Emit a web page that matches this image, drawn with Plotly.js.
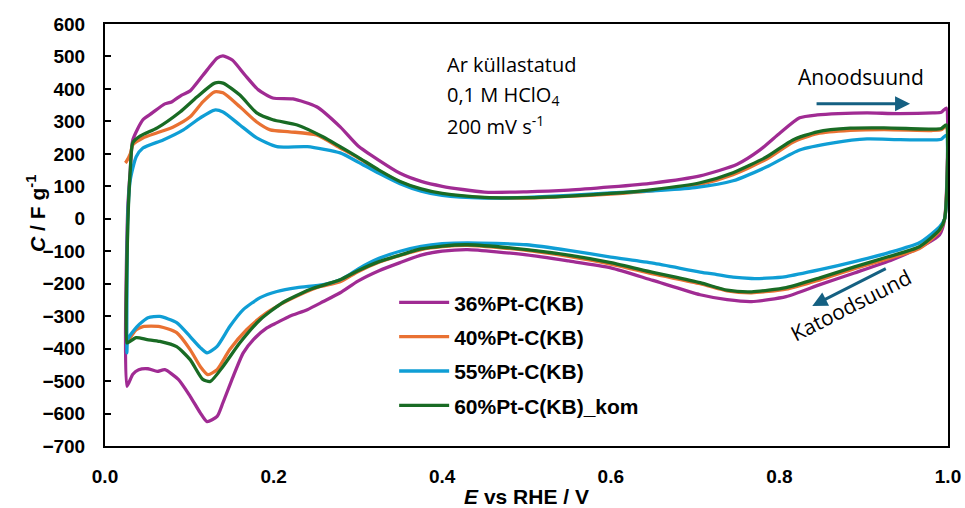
<!DOCTYPE html>
<html>
<head>
<meta charset="utf-8">
<script src="https://cdn.plot.ly/plotly-3.0.1.min.js"></script>
<style>html,body{margin:0;padding:0;background:#fff;}#chart{width:965px;height:508px;}</style>
</head>
<body>
<div id="chart"></div>
<script>
// ---- Data (E vs RHE / V ; C / F g^-1) ----
const seriesNames = ["36%Pt-C(KB)", "40%Pt-C(KB)", "55%Pt-C(KB)", "60%Pt-C(KB)_kom"];

// 36%Pt-C(KB)
const p36_anodic_E = [0.026, 0.027, 0.030, 0.033, 0.045, 0.056, 0.071, 0.079, 0.091, 0.101, 0.121, 0.133, 0.140, 0.151, 0.166, 0.182, 0.199, 0.223, 0.251, 0.279, 0.30, 0.325, 0.35, 0.375, 0.40, 0.45, 0.50, 0.55, 0.60, 0.65, 0.706, 0.75, 0.777, 0.801, 0.824, 0.845, 0.87, 0.904, 0.94, 0.982, 0.992, 0.998];
const p36_anodic_C = [-516, 30, 150, 243, 305, 326, 354, 360, 381, 394, 458, 495, 502, 489, 443, 397, 372, 369, 345, 283, 225, 180, 140, 115, 100, 82, 83, 88, 98, 110, 132, 168, 212, 265, 311, 320, 324, 326, 324, 326, 328, 341];
const p36_cathodic_E = [0.996, 0.990, 0.966, 0.934, 0.889, 0.848, 0.808, 0.767, 0.738, 0.706, 0.65, 0.60, 0.55, 0.50, 0.43, 0.40, 0.375, 0.35, 0.325, 0.30, 0.279, 0.259, 0.240, 0.219, 0.204, 0.192, 0.176, 0.164, 0.152, 0.140, 0.133, 0.121, 0.113, 0.101, 0.087, 0.071, 0.062, 0.051, 0.040, 0.033, 0.026];
const p36_cathodic_C = [0, -49, -89, -126, -167, -203, -240, -255, -249, -234, -190, -151, -130, -111, -95, -100, -112, -135, -160, -192, -228, -255, -280, -300, -320, -336, -372, -413, -486, -566, -609, -625, -598, -547, -495, -465, -470, -462, -465, -479, -516];

// 40%Pt-C(KB)
const p40_anodic_E = [0.024, 0.025, 0.030, 0.033, 0.045, 0.062, 0.081, 0.101, 0.116, 0.130, 0.140, 0.160, 0.180, 0.196, 0.219, 0.251, 0.279, 0.30, 0.325, 0.35, 0.375, 0.40, 0.45, 0.50, 0.55, 0.60, 0.65, 0.706, 0.745, 0.785, 0.816, 0.845, 0.884, 0.924, 0.982, 0.992, 0.998];
const p40_anodic_C = [172, 175, 200, 228, 249, 265, 283, 314, 360, 391, 388, 345, 298, 274, 268, 258, 218, 188, 148, 113, 90, 76, 65, 64, 69, 76, 87, 106, 136, 184, 236, 262, 272, 275, 272, 274, 285];
const p40_cathodic_E = [0.996, 0.990, 0.966, 0.929, 0.889, 0.848, 0.808, 0.767, 0.738, 0.706, 0.65, 0.60, 0.55, 0.50, 0.43, 0.40, 0.375, 0.35, 0.325, 0.30, 0.279, 0.251, 0.219, 0.192, 0.168, 0.148, 0.133, 0.122, 0.113, 0.101, 0.085, 0.065, 0.045, 0.037, 0.026];
const p40_cathodic_C = [0, -38, -92, -123, -154, -188, -217, -228, -222, -200, -170, -140, -116, -97, -82, -86, -95, -113, -134, -163, -194, -212, -249, -289, -342, -403, -465, -480, -455, -403, -351, -332, -332, -342, -382];

// 55%Pt-C(KB)
const p55_anodic_E = [0.026, 0.027, 0.030, 0.037, 0.045, 0.069, 0.093, 0.113, 0.130, 0.140, 0.160, 0.180, 0.204, 0.240, 0.279, 0.30, 0.325, 0.35, 0.375, 0.40, 0.45, 0.50, 0.55, 0.60, 0.65, 0.70, 0.745, 0.785, 0.824, 0.864, 0.904, 0.94, 0.982, 0.992, 0.998];
const p55_anodic_C = [-413, 0, 120, 191, 218, 243, 274, 311, 335, 329, 289, 249, 222, 222, 203, 175, 140, 108, 85, 72, 64, 66, 72, 80, 86, 96, 117, 160, 212, 234, 246, 244, 243, 245, 258];
const p55_cathodic_E = [0.996, 0.990, 0.966, 0.929, 0.889, 0.848, 0.808, 0.785, 0.767, 0.745, 0.726, 0.706, 0.65, 0.60, 0.55, 0.50, 0.43, 0.40, 0.375, 0.35, 0.325, 0.30, 0.29, 0.279, 0.259, 0.228, 0.204, 0.184, 0.164, 0.148, 0.133, 0.121, 0.113, 0.101, 0.085, 0.065, 0.051, 0.038, 0.027, 0.026];
const p55_cathodic_C = [0, -25, -74, -105, -132, -157, -178, -183, -184, -180, -172, -164, -137, -118, -97, -80, -74, -77, -85, -100, -122, -155, -172, -188, -203, -212, -224, -243, -280, -332, -393, -413, -397, -363, -320, -301, -305, -332, -372, -413];

// 60%Pt-C(KB)_kom
const p60_anodic_E = [0.026, 0.027, 0.030, 0.033, 0.042, 0.062, 0.089, 0.109, 0.130, 0.140, 0.160, 0.180, 0.199, 0.228, 0.259, 0.279, 0.30, 0.325, 0.35, 0.375, 0.40, 0.45, 0.50, 0.55, 0.60, 0.65, 0.706, 0.745, 0.785, 0.816, 0.845, 0.884, 0.924, 0.982, 0.992, 0.998];
const p60_anodic_C = [-382, -25, 150, 234, 255, 280, 329, 375, 418, 418, 381, 326, 305, 289, 252, 222, 190, 150, 115, 92, 78, 66, 65, 70, 78, 90, 111, 142, 191, 243, 268, 279, 280, 276, 278, 289];
const p60_cathodic_E = [0.996, 0.990, 0.966, 0.929, 0.889, 0.848, 0.808, 0.767, 0.738, 0.706, 0.65, 0.60, 0.55, 0.50, 0.43, 0.40, 0.375, 0.35, 0.325, 0.30, 0.279, 0.243, 0.211, 0.184, 0.160, 0.140, 0.125, 0.116, 0.101, 0.085, 0.065, 0.050, 0.037, 0.027, 0.026];
const p60_cathodic_C = [0, -34, -86, -117, -148, -182, -212, -225, -220, -197, -165, -135, -112, -95, -80, -84, -93, -112, -132, -160, -188, -218, -258, -311, -382, -455, -501, -495, -434, -394, -378, -372, -366, -382, -382];

const xTickVals = [0.0, 0.2, 0.4, 0.6, 0.8, 1.0];
const xTickText = ["0.0", "0.2", "0.4", "0.6", "0.8", "1.0"];
const yTickVals = [600, 500, 400, 300, 200, 100, 0, -100, -200, -300, -400, -500, -600, -700];

const colors = ["#A02B93", "#E97132", "#0F9ED5", "#196B24"];

const sweeps = [
  [p36_anodic_E, p36_anodic_C, p36_cathodic_E, p36_cathodic_C],
  [p40_anodic_E, p40_anodic_C, p40_cathodic_E, p40_cathodic_C],
  [p55_anodic_E, p55_anodic_C, p55_cathodic_E, p55_cathodic_C],
  [p60_anodic_E, p60_anodic_C, p60_cathodic_E, p60_cathodic_C]
];

const traces = sweeps.map((s, i) => ({
  type: "scatter",
  mode: "lines",
  name: seriesNames[i],
  legendgroup: "g" + i,
  x: s[0].concat(s[2]),
  y: s[1].concat(s[3]),
  line: {color: colors[i], width: 3.3, shape: "spline", smoothing: 0.6},
  hoverinfo: "skip"
}));

const boldFamily = "Liberation Sans, Arial, sans-serif";
const tickFont = {family: boldFamily, size: 19, color: "#000", weight: "bold"};
const noteFont = {family: "Open Sans, Noto Sans, sans-serif", size: 20, color: "#000"};
const arrowColor = "#156082";

const layout = {
  width: 965, height: 508,
  margin: {l: 105, r: 17, t: 24, b: 62},
  paper_bgcolor: "#fff", plot_bgcolor: "#fff",
  showlegend: true,
  legend: {
    x: 0.343, y: 0.388, xanchor: "left", yanchor: "top",
    font: {family: boldFamily, size: 21, color: "#000", weight: "bold"},
    bgcolor: "rgba(0,0,0,0)", tracegroupgap: 4, itemwidth: 50
  },
  xaxis: {
    range: [0, 1.0], tickvals: xTickVals, ticktext: xTickText,
    showgrid: false, zeroline: false,
    showline: true, linecolor: "#000", linewidth: 2, mirror: true,
    ticks: "", ticklabelstandoff: 12, tickfont: tickFont,
    title: {text: "<i>E</i> vs RHE / V", font: {family: boldFamily, size: 21, color: "#000", weight: "bold"}, standoff: 18}
  },
  yaxis: {
    range: [-700, 600], tickvals: yTickVals,
    showgrid: false, zeroline: false,
    showline: true, linecolor: "#000", linewidth: 2, mirror: true,
    ticks: "inside", ticklen: 6, tickwidth: 2, tickcolor: "#000",
    ticklabelstandoff: 14, tickfont: tickFont
  },
  annotations: [
    {xref: "paper", yref: "paper", x: -0.082, y: 0.552, xanchor: "center", yanchor: "middle", showarrow: false,
     text: "<i>C</i> / F g<sup>-1</sup>", textangle: -90, font: {family: boldFamily, size: 21, color: "#000", weight: "bold"}},
    {xref: "paper", yref: "paper", x: 0.403, y: 0.905, xanchor: "left", yanchor: "middle", showarrow: false, text: "Ar küllastatud", font: noteFont},
    {xref: "paper", yref: "paper", x: 0.403, y: 0.830, xanchor: "left", yanchor: "middle", showarrow: false, text: "0,1 M HClO<sub>4</sub>", font: noteFont},
    {xref: "paper", yref: "paper", x: 0.403, y: 0.759, xanchor: "left", yanchor: "middle", showarrow: false, text: "200 mV s<sup>-1</sup>", font: noteFont},
    {xref: "paper", yref: "paper", x: 0.897, y: 0.875, xanchor: "center", yanchor: "middle", showarrow: false, text: "Anoodsuund", font: {family: "Open Sans, Noto Sans, sans-serif", size: 21, color: "#000"}},
    {xref: "paper", yref: "paper", x: 0.885, y: 0.334, xanchor: "center", yanchor: "middle", showarrow: false, text: "Katoodsuund", font: {family: "Open Sans, Noto Sans, sans-serif", size: 21, color: "#000"}, textangle: -27},
    {xref: "paper", yref: "paper", x: 0.955, y: 0.811, text: "", showarrow: true, ax: -95, ay: 0,
     arrowhead: 2, arrowsize: 1, arrowwidth: 3, arrowcolor: arrowColor},
    {xref: "paper", yref: "paper", x: 0.839, y: 0.332, text: "", showarrow: true, ax: 75, ay: -38,
     arrowhead: 2, arrowsize: 1, arrowwidth: 3, arrowcolor: arrowColor}
  ]
};

Plotly.newPlot("chart", traces, layout, {displayModeBar: false, staticPlot: true});
</script>
</body>
</html>
